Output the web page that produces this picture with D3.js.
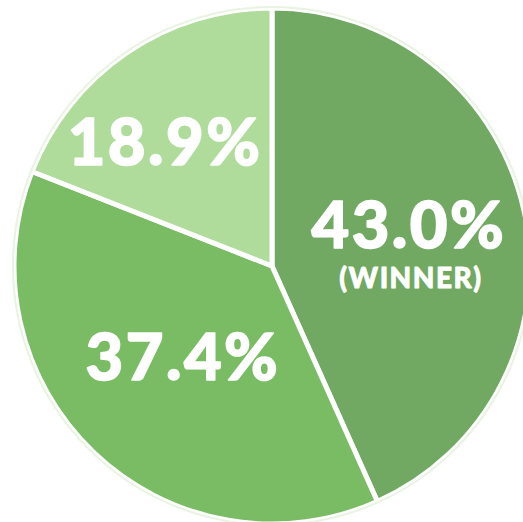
<!DOCTYPE html>
<html><head><meta charset="utf-8">
<script src="https://cdn.jsdelivr.net/npm/d3@7"></script>
<style>html,body{margin:0;padding:0;background:#fff;overflow:hidden}</style>
</head><body>
<svg id="chart" width="523" height="522"></svg>
<script>
const categories = ["Winner", "Second", "Third"];
const values = [43.0, 37.4, 18.9];
const labels = ["43.0%", "37.4%", "18.9%"];
const sublabels = ["(WINNER)", "", ""];
const colors = ["#71a963", "#79bc63", "#afdc9b"];

const cx = 272, cy = 266, R = 258;
const labelArcRadius = 142;
const labelNudge = [[-4, -12], [7, -13], [-29, -8]];

const svg = d3.select("#chart");
const g = svg.append("g").attr("transform", `translate(${cx},${cy})`);

const pie = d3.pie().sort(null).value(d => d.v);
const data = categories.map((c, i) => ({c, v: values[i], i}));
const arcs = pie(data);
const arc = d3.arc().innerRadius(0).outerRadius(R);
const labelArc = d3.arc().innerRadius(labelArcRadius).outerRadius(labelArcRadius);

g.selectAll("path.slice").data(arcs).enter().append("path")
  .attr("class", "slice")
  .attr("d", arc)
  .attr("fill", d => colors[d.data.i])
  .attr("stroke", "#fff")
  .attr("stroke-width", 5)
  .attr("stroke-linejoin", "round");

g.append("circle").attr("r", R + 1).attr("fill", "none").attr("stroke", "#e8f3e2").attr("stroke-width", 2);

const txt = g.selectAll("text.lab").data(arcs).enter().append("text").attr("class", "lab")
  .attr("transform", d => {
    const [x, y] = labelArc.centroid(d);
    const n = labelNudge[d.data.i];
    return `translate(${x + n[0]},${y + n[1]})`;
  })
  .attr("text-anchor", "middle")
  .attr("font-family", "Lato, 'Open Sans', sans-serif")
  .attr("font-weight", 900)
  .attr("fill", "#fff")
  .attr("stroke", "#fff")
  .attr("stroke-linejoin", "round");

txt.append("tspan")
  .attr("x", 2)
  .attr("y", 24)
  .attr("font-size", 65)
  .attr("letter-spacing", 2.5)
  .attr("stroke-width", 1.6)
  .text(d => labels[d.data.i]);

txt.filter(d => sublabels[d.data.i]).append("tspan")
  .attr("x", 4)
  .attr("y", 64)
  .attr("font-size", 28)
  .attr("letter-spacing", 1.5)
  .attr("stroke-width", 0.8)
  .text(d => sublabels[d.data.i]);
</script>
</body></html>
